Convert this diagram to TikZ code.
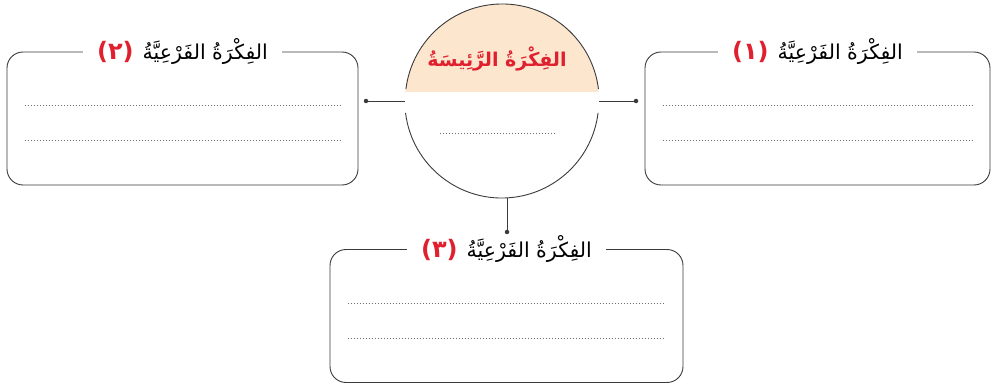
\documentclass[tikz,border=0pt]{standalone}
\usepackage{fontspec}
\TeXXeTstate=1
\newfontfamily\arabicfont[Script=Arabic]{DejaVu Sans}
\definecolor{titlered}{HTML}{E0202E}
\definecolor{peach}{HTML}{FCE6CE}
\definecolor{inkline}{HTML}{3A3A3A}
\definecolor{dotgray}{HTML}{6E6E6E}
% heading of a sub-idea box: red number, then the Arabic words
\newcommand{\subheading}[1]{%
  {\color{titlered}\bfseries\fontsize{24}{26}\selectfont(#1)}\hspace{9pt}{\color{black}\beginR الفِكْرَةُ الفَرْعِيَّةُ\endR}}
\begin{document}
\begin{tikzpicture}[x=1pt,y=1pt,
  framebox/.style={draw=inkline, line width=0.9pt, rounded corners=16pt,
    minimum width=#1, minimum height=133pt, inner sep=0pt},
  boxtitle/.style={fill=white, inner xsep=14pt, inner ysep=2pt,
    font=\arabicfont\fontsize{20.5}{24}\selectfont},
  writeline/.style={draw=dotgray, line width=0.9pt, dash pattern=on 0.9pt off 2.1pt},
  link/.style={draw=inkline, line width=0.9pt},
  dotend/.style={circle, fill=inkline, inner sep=0pt, minimum size=4.5pt}]
\useasboundingbox (0,0) rectangle (996,386);

% central idea circle
\node[circle, minimum size=194pt, inner sep=0pt] (main) at (502,285) {};
\begin{scope}
  \clip (400,294) rectangle (610,386);
  \fill[peach] (main.center) circle[radius=97pt];
\end{scope}
\draw[link] (main.7) arc[start angle=7, end angle=173, radius=97pt];
\draw[link] (main.187) arc[start angle=187, end angle=353, radius=97pt];
\node[font=\arabicfont\bfseries\fontsize{19}{23}\selectfont, text=titlered] (maintitle) at (497,327)
  {\beginR الفِكْرَةُ الرَّئِيسَةُ\endR};
\coordinate (ml) at (440,253);
\coordinate (mr) at (555,253);
\draw[writeline] (ml) -- (mr);

% sub-idea boxes
\node[framebox=351pt] (b2) at (182.5,267.5) {};
\node[framebox=345pt] (b1) at (817.5,267.5) {};
\node[framebox=353pt] (b3) at (506.5,70) {};

\node[boxtitle] (b1t) at (b1.north) {\subheading{١}};
\node[boxtitle] (b2t) at (b2.north) {\subheading{٢}};
\node[boxtitle] (b3t) at (b3.north) {\subheading{٣}};

\foreach \b in {b1,b2,b3}{
  \draw[writeline] ([xshift=18pt,yshift=-54pt]\b.north west) -- ([xshift=-18pt,yshift=-54pt]\b.north east);
  \draw[writeline] ([xshift=18pt,yshift=-89pt]\b.north west) -- ([xshift=-18pt,yshift=-89pt]\b.north east);
}

% connectors
\node[dotend] (d2) at (366,285) {};
\node[dotend] (d1) at (636,285) {};
\node[dotend] (d3) at (507,154) {};
\draw[link] (d2) -- (main.west);
\draw[link] (main.east) -- (d1);
\draw[link] (main.south -| d3) -- (d3);
\end{tikzpicture}
\end{document}
